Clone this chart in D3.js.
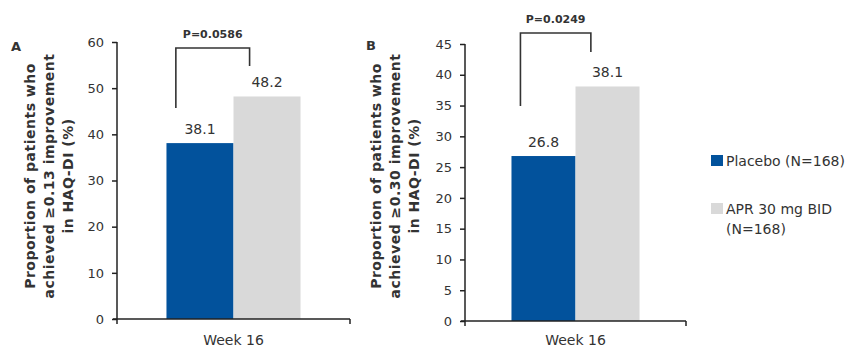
<!DOCTYPE html>
<html>
<head>
<meta charset="utf-8">
<script src="https://cdn.jsdelivr.net/npm/d3@7"></script>
<style>
  html, body { margin: 0; padding: 0; background: #fff; }
  svg { display: block; }
  text { font-family: "DejaVu Sans", Verdana, sans-serif; fill: #333; }
</style>
</head>
<body>
<svg id="chart" width="848" height="349"></svg>
<script>
// Treatment groups and their colours
const groups = ["Placebo (N=168)", "APR 30 mg BID (N=168)"];
const groupColors = ["#02529c", "#d9d9d9"];
const legendLines = [["Placebo (N=168)"], ["APR 30 mg BID", "(N=168)"]];

// Time point shown on the x axis
const categories = ["Week 16"];

// Panel A: ≥0.13 HAQ-DI improvement
const panelAValues = [38.1, 48.2];
const panelATicks = [0, 10, 20, 30, 40, 50, 60];
const panelAP = "P=0.0586";
const panelATitle = ["Proportion of patients who", "achieved \u22650.13 improvement", "in HAQ-DI (%)"];

// Panel B: ≥0.30 HAQ-DI improvement
const panelBValues = [26.8, 38.1];
const panelBTicks = [0, 5, 10, 15, 20, 25, 30, 35, 40, 45];
const panelBP = "P=0.0249";
const panelBTitle = ["Proportion of patients who", "achieved \u22650.30 improvement", "in HAQ-DI (%)"];

const svg = d3.select("#chart");

function drawPanel(cfg) {
  const g = svg.append("g");
  const y = d3.scaleLinear().domain([0, cfg.max]).range([cfg.y0, cfg.y1]);
  const x = d3.scaleBand().domain(categories).range([cfg.x0, cfg.x1])
    .paddingInner(0).paddingOuter(cfg.pad);
  const xs = d3.scaleBand().domain(groups).range([0, x.bandwidth()]).padding(0);

  // y axis
  const yAxis = g.append("g")
    .attr("transform", `translate(${cfg.x0},0)`)
    .call(d3.axisLeft(y).tickValues(cfg.ticks).tickSize(5).tickPadding(8).tickSizeOuter(0));
  yAxis.select(".domain").remove();
  yAxis.selectAll(".tick line").attr("stroke", "#222").attr("stroke-width", 1.5);
  yAxis.selectAll(".tick text")
    .style("font-family", '"DejaVu Sans", Verdana, sans-serif')
    .style("font-size", "13px").attr("fill", "#333");
  g.append("line")
    .attr("x1", cfg.x0).attr("x2", cfg.x0)
    .attr("y1", y(cfg.max)).attr("y2", y(0) + 5)
    .attr("stroke", "#222").attr("stroke-width", 1.5);

  // bars
  const data = groups.map((k, i) => ({ key: k, value: cfg.values[i], color: groupColors[i] }));
  g.selectAll("rect.bar").data(data).enter().append("rect")
    .attr("class", "bar")
    .attr("x", d => x(categories[0]) + xs(d.key))
    .attr("width", xs.bandwidth())
    .attr("y", d => y(d.value))
    .attr("height", d => y(0) - y(d.value))
    .attr("fill", d => d.color);

  // value labels
  g.selectAll("text.val").data(data).enter().append("text")
    .attr("class", "val")
    .attr("x", d => x(categories[0]) + xs(d.key) + xs.bandwidth() / 2)
    .attr("y", d => y(d.value) - 9)
    .attr("text-anchor", "middle")
    .style("font-size", "14px")
    .text(d => d.value.toFixed(1));

  // x axis
  g.append("line")
    .attr("x1", cfg.x0 - 4).attr("x2", cfg.x1)
    .attr("y1", y(0)).attr("y2", y(0))
    .attr("stroke", "#222").attr("stroke-width", 1.5);
  g.append("line")
    .attr("x1", cfg.x1).attr("x2", cfg.x1)
    .attr("y1", y(0)).attr("y2", y(0) + 5)
    .attr("stroke", "#222").attr("stroke-width", 1.5);
  g.append("text")
    .attr("x", x(categories[0]) + x.bandwidth() / 2)
    .attr("y", cfg.catY)
    .attr("text-anchor", "middle")
    .style("font-size", "14px")
    .text(categories[0]);

  // significance bracket
  const lx = x(categories[0]) + xs(groups[0]) + xs.bandwidth() * 0.14;
  const rx = x(categories[0]) + xs(groups[1]) + xs.bandwidth() * 0.24;
  g.append("path")
    .attr("d", `M${lx},${cfg.brLeft}V${cfg.brTop}H${rx}V${cfg.brRight}`)
    .attr("fill", "none").attr("stroke", "#333").attr("stroke-width", 1.6);
  g.append("text")
    .attr("x", (lx + rx) / 2)
    .attr("y", cfg.brTop - 10)
    .attr("text-anchor", "middle")
    .style("font-size", "11px").style("font-weight", "bold")
    .text(cfg.p);

  // panel letter
  g.append("text")
    .attr("x", cfg.letterX).attr("y", cfg.letterY)
    .style("font-size", "13px").style("font-weight", "bold")
    .attr("fill", "#111")
    .text(cfg.letter);

  // y axis title
  const title = g.append("text")
    .attr("transform", `translate(${cfg.titleX},${cfg.titleY}) rotate(-90)`)
    .attr("text-anchor", "middle")
    .style("font-size", "14px").style("font-weight", "bold")
    .style("letter-spacing", "0.5px")
    .attr("fill", "#222");
  cfg.title.forEach((t, i) => {
    title.append("tspan").attr("x", 0).attr("y", i * 19).text(t);
  });
}

drawPanel({
  letter: "A", letterX: 11, letterY: 51,
  values: panelAValues, ticks: panelATicks, max: 60, p: panelAP, title: panelATitle,
  x0: 117, x1: 350, pad: 0.369, y0: 319, y1: 42,
  catY: 345, brTop: 48, brLeft: 108, brRight: 66,
  titleX: 35, titleY: 176
});

drawPanel({
  letter: "B", letterX: 366, letterY: 50,
  values: panelBValues, ticks: panelBTicks, max: 45, p: panelBP, title: panelBTitle,
  x0: 465, x1: 686, pad: 0.363, y0: 321, y1: 44,
  catY: 345, brTop: 33, brLeft: 106, brRight: 52,
  titleX: 381, titleY: 176
});

// legend
const legend = svg.append("g");
legendLines.forEach((lines, i) => {
  const top = i === 0 ? 155 : 203;
  legend.append("rect")
    .attr("x", 711).attr("y", top).attr("width", 12).attr("height", 11)
    .attr("fill", groupColors[i]);
  lines.forEach((t, j) => {
    legend.append("text")
      .attr("x", 726).attr("y", top + 11 + j * 20)
      .style("font-size", "14px")
      .text(t);
  });
});
</script>
</body>
</html>
